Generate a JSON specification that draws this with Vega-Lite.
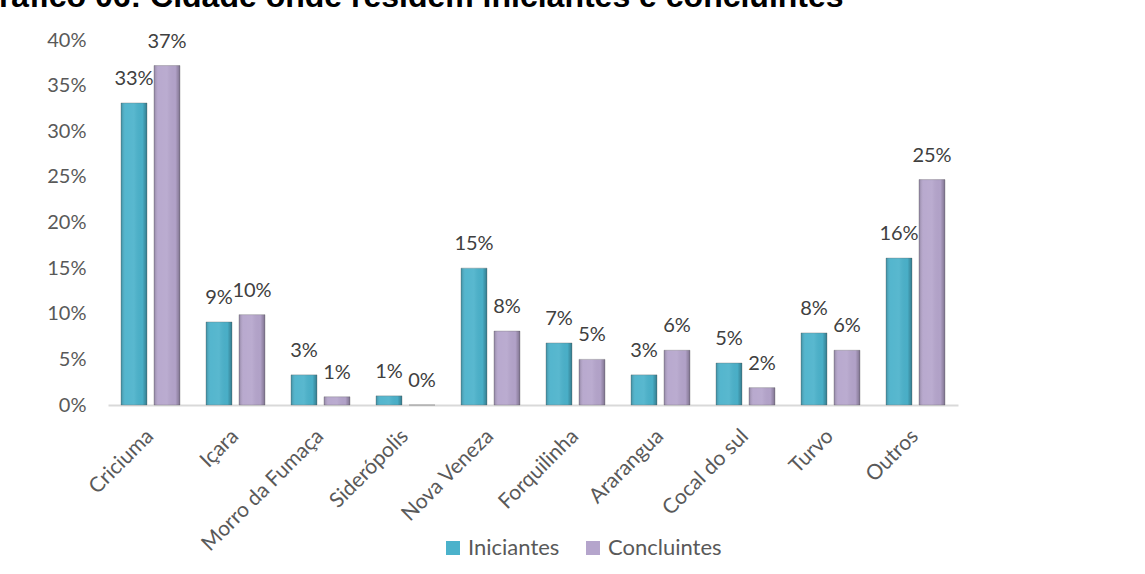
{
  "$schema": "https://vega.github.io/schema/vega-lite/v6.json",
  "width": 850,
  "height": 365,
  "autosize": {"type": "none"},
  "padding": {"left": 108, "top": 40, "right": 187, "bottom": 169},
  "background": "white",
  "title": {
    "text": "Gráfico 06: Cidade onde residem iniciantes e concluintes",
    "anchor": "start",
    "frame": "group",
    "font": "Liberation Sans",
    "fontWeight": "bold",
    "fontSize": 32,
    "color": "#000000",
    "baseline": "alphabetic",
    "offset": 0,
    "dx": -134,
    "dy": 9
  },
  "config": {
    "view": {"stroke": null},
    "font": "Lato",
    "axis": {"labelFont": "Lato", "labelColor": "#595959"},
    "legend": {"labelFont": "Lato", "labelColor": "#595959"}
  },
  "data": {
    "values": [
      {"cidade": "Criciuma", "grupo": "Iniciantes", "valor": 0.331},
      {"cidade": "Criciuma", "grupo": "Concluintes", "valor": 0.372},
      {"cidade": "Içara", "grupo": "Iniciantes", "valor": 0.091},
      {"cidade": "Içara", "grupo": "Concluintes", "valor": 0.099},
      {"cidade": "Morro da Fumaça", "grupo": "Iniciantes", "valor": 0.033},
      {"cidade": "Morro da Fumaça", "grupo": "Concluintes", "valor": 0.009},
      {"cidade": "Siderópolis", "grupo": "Iniciantes", "valor": 0.010},
      {"cidade": "Siderópolis", "grupo": "Concluintes", "valor": 0.0},
      {"cidade": "Nova Veneza", "grupo": "Iniciantes", "valor": 0.150},
      {"cidade": "Nova Veneza", "grupo": "Concluintes", "valor": 0.081},
      {"cidade": "Forquilinha", "grupo": "Iniciantes", "valor": 0.068},
      {"cidade": "Forquilinha", "grupo": "Concluintes", "valor": 0.050},
      {"cidade": "Ararangua", "grupo": "Iniciantes", "valor": 0.033},
      {"cidade": "Ararangua", "grupo": "Concluintes", "valor": 0.060},
      {"cidade": "Cocal do sul", "grupo": "Iniciantes", "valor": 0.046},
      {"cidade": "Cocal do sul", "grupo": "Concluintes", "valor": 0.019},
      {"cidade": "Turvo", "grupo": "Iniciantes", "valor": 0.079},
      {"cidade": "Turvo", "grupo": "Concluintes", "valor": 0.060},
      {"cidade": "Outros", "grupo": "Iniciantes", "valor": 0.161},
      {"cidade": "Outros", "grupo": "Concluintes", "valor": 0.247}
    ]
  },
  "encoding": {
    "x": {
      "field": "cidade",
      "type": "nominal",
      "sort": null,
      "scale": {"paddingInner": 0, "paddingOuter": 0},
      "axis": {
        "title": null,
        "labelAngle": -45,
        "labelFontSize": 21,
        "labelPadding": 20,
        "labelOffset": -8,
        "ticks": false,
        "domainColor": "#D9D9D9",
        "domainWidth": 2
      }
    },
    "xOffset": {
      "field": "grupo",
      "type": "nominal",
      "sort": ["Iniciantes", "Concluintes"],
      "scale": {"paddingInner": 0.212, "paddingOuter": 0.394}
    },
    "y": {
      "field": "valor",
      "type": "quantitative",
      "scale": {"domain": [0, 0.4]},
      "axis": {
        "title": null,
        "format": ".0%",
        "values": [0, 0.05, 0.1, 0.15, 0.2, 0.25, 0.3, 0.35, 0.4],
        "grid": false,
        "domain": false,
        "ticks": false,
        "labelPadding": 22,
        "labelFontSize": 20
      }
    }
  },
  "layer": [
    {
      "mark": {"type": "bar", "stroke": "#6b6b6b", "strokeWidth": 0.6, "strokeOpacity": 0.6},
      "encoding": {
        "color": {
          "field": "grupo",
          "type": "nominal",
          "scale": {"domain": ["Iniciantes", "Concluintes"], "range": ["#4BB2CB", "#B5A5CC"]},
          "legend": {
            "title": null,
            "orient": "none",
            "direction": "horizontal",
            "legendX": 334,
            "legendY": 497,
            "symbolType": "square",
            "symbolSize": 196,
            "symbolStrokeWidth": 0,
            "labelFontSize": 22,
            "labelOffset": 4,
            "columnPadding": 22
          }
        }
      }
    },
    {
      "mark": {
        "type": "bar",
        "fill": {
          "gradient": "linear",
          "x1": 0, "y1": 0, "x2": 1, "y2": 0,
          "stops": [
            {"offset": 0, "color": "rgba(0,0,0,0.22)"},
            {"offset": 0.18, "color": "rgba(255,255,255,0.05)"},
            {"offset": 0.5, "color": "rgba(255,255,255,0.08)"},
            {"offset": 0.82, "color": "rgba(0,0,0,0.02)"},
            {"offset": 1, "color": "rgba(0,0,0,0.3)"}
          ]
        }
      },
      "encoding": {}
    },
    {
      "mark": {
        "type": "text",
        "baseline": "alphabetic",
        "dy": -18,
        "fontSize": 20,
        "font": "Lato",
        "color": "#404040"
      },
      "encoding": {
        "text": {"field": "valor", "type": "quantitative", "format": ".0%"}
      }
    }
  ]
}
